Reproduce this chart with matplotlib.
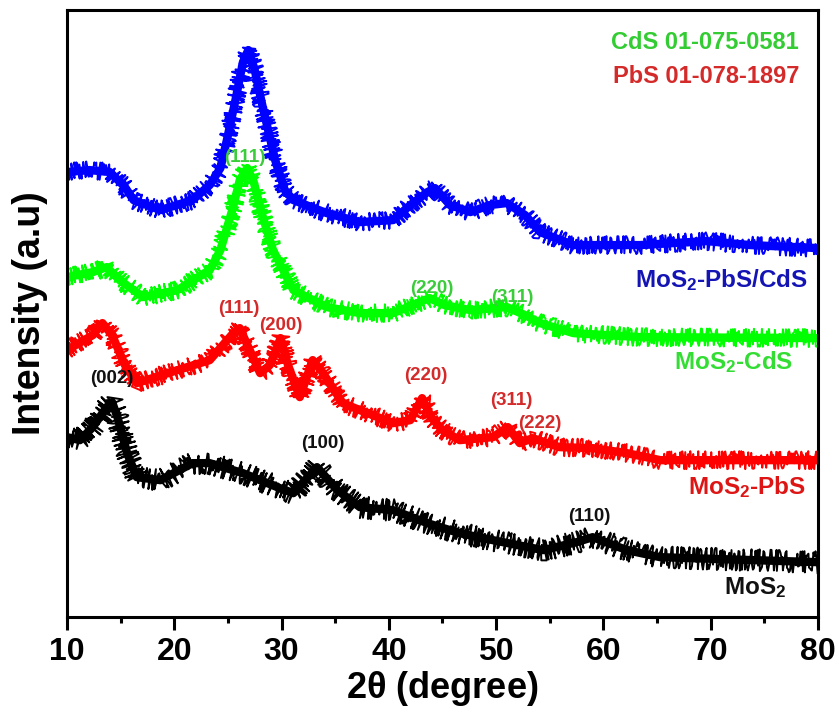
import matplotlib
matplotlib.use("Agg")
import matplotlib.pyplot as plt
import numpy as np

plt.rcParams['font.family'] = ['Liberation Sans', 'DejaVu Sans']
plt.rcParams['font.weight'] = 'bold'
plt.rcParams['axes.labelweight'] = 'bold'
plt.rcParams['mathtext.default'] = 'regular'

# XRD patterns, stacked with offsets (arbitrary units)
tt_mos2 = [10.0, 11.2, 12.4, 13.7, 14.2, 14.7, 15.6, 16.5, 18.7, 21.7, 23.3, 26.4, 29.6,
           31.1, 33.3, 35.2, 37.3, 40.4, 43.6, 46.6, 49.7, 54.4, 57.5, 59.0, 62.2, 65.3, 80.0]
i_mos2 = [180, 177, 190, 210, 215, 200, 164, 140, 137, 154, 154, 144, 130,
          124, 150, 127, 110, 107, 94, 84, 77, 67, 75, 80, 67, 60, 55]

tt_pbs = [10.0, 12.4, 13.3, 14.2, 15.4, 16.5, 20.3, 23.3, 25.5, 26.1, 28.0, 28.9, 29.6, 29.9,
          30.6, 31.7, 32.9, 33.8, 35.7, 37.3, 40.4, 42.0, 43.1, 44.0, 45.0, 46.6, 49.7, 51.1,
          52.2, 53.4, 55.9, 59.0, 62.2, 65.3, 80.0]
i_pbs = [267, 282, 294, 282, 252, 234, 247, 257, 284, 289, 244, 252, 270, 279,
         252, 220, 257, 245, 214, 207, 194, 197, 219, 199, 187, 177, 180, 190,
         174, 179, 170, 169, 164, 157, 157]

tt_cds = [10.0, 12.4, 13.7, 14.9, 17.1, 20.3, 23.3, 24.3, 25.4, 26.1, 26.8, 27.4, 28.2, 29.2,
          31.1, 34.2, 37.3, 40.4, 42.2, 43.8, 45.2, 47.6, 51.0, 52.7, 54.1, 57.2, 63.4, 80.0]
i_cds = [340, 345, 350, 337, 320, 327, 347, 367, 407, 437, 449, 435, 402, 367,
         327, 310, 304, 304, 312, 319, 312, 307, 310, 302, 294, 284, 280, 279]

tt_pbs_cds = [10.0, 12.1, 14.0, 15.4, 16.2, 18.7, 21.7, 23.3, 24.3, 24.9, 25.7, 26.4, 26.9,
              27.5, 28.2, 29.4, 30.3, 31.1, 34.2, 37.3, 40.4, 42.0, 43.6, 44.3, 45.7, 47.6,
              49.4, 51.0, 52.7, 54.1, 57.2, 63.4, 69.6, 73.7, 80.0]
i_pbs_cds = [445, 447, 445, 430, 417, 407, 417, 432, 449, 477, 517, 555, 567,
             547, 512, 457, 427, 417, 404, 395, 397, 412, 425, 429, 412, 405,
             412, 414, 402, 385, 372, 372, 376, 372, 369]

# (2theta, intensity, label) for the indexed reflections
hkl_mos2 = [(14.2, 239, '(002)'), (33.8, 174, '(100)'), (58.7, 101, '(110)')]
hkl_pbs = [(26.0, 309, '(111)'), (29.9, 292, '(200)'), (43.4, 242, '(220)'),
           (51.4, 217, '(311)'), (54.1, 194, '(222)')]
hkl_cds = [(26.6, 460, '(111)'), (44.0, 329, '(220)'), (51.5, 320, '(311)')]

fig = plt.figure(figsize=(8.39, 7.16), dpi=100)
ax = fig.add_axes([0.0799, 0.138, 0.895, 0.848])

curves = [
    (tt_mos2, i_mos2, 'black', 11),
    (tt_pbs, i_pbs, '#ff0000', 9),
    (tt_cds, i_cds, '#00ff00', 9),
    (tt_pbs_cds, i_pbs_cds, '#0000ff', 9),
]
for tt, inten, col, jit in curves:
    # solid core of the trace plus thin spiky noise on top
    ax.plot(tt, inten, color=col, lw=6)
    ln, = ax.plot(tt, inten, color=col, lw=1.4)
    ln.set_sketch_params(scale=jit, length=0.7, randomness=8)

for x, y, s in hkl_mos2:
    ax.text(x, y, s, color='#111111', fontsize=13.5, ha='center', va='center')
for x, y, s in hkl_pbs:
    ax.text(x, y, s, color='#d42a2a', fontsize=13.5, ha='center', va='center')
for x, y, s in hkl_cds:
    ax.text(x, y, s, color='#3acc3a', fontsize=13.5, ha='center', va='center')

ax.text(79.1, 337, 'MoS$_2$-PbS/CdS', color='#1414b4', fontsize=17.5, ha='right', va='center')
ax.text(77.7, 255, 'MoS$_2$-CdS', color='#33dd33', fontsize=17.5, ha='right', va='center')
ax.text(78.9, 130, 'MoS$_2$-PbS', color='#dd1515', fontsize=17.5, ha='right', va='center')
ax.text(77.0, 30, 'MoS$_2$', color='#111111', fontsize=17.5, ha='right', va='center')

ax.text(0.975, 0.946, 'CdS 01-075-0581', color='#33cc33', fontsize=17,
        ha='right', va='center', transform=ax.transAxes)
ax.text(0.975, 0.890, 'PbS 01-078-1897', color='#d42a2a', fontsize=17,
        ha='right', va='center', transform=ax.transAxes)

ax.set_xlim(10, 80)
ax.set_ylim(0, 607)
ax.set_xticks(np.arange(10, 81, 10))
ax.set_xticks(np.arange(15, 80, 10), minor=True)
ax.set_yticks([])
ax.tick_params(axis='x', which='major', direction='out', length=9, width=2.2,
               labelsize=23, pad=5)
ax.tick_params(axis='x', which='minor', direction='out', length=4.5, width=2.2)
for sp in ax.spines.values():
    sp.set_linewidth(2.2)

ax.set_xlabel(r'2$\theta$ (degree)', fontsize=26, labelpad=2)
ax.set_ylabel('Intensity (a.u)', fontsize=27, labelpad=14)

fig.savefig('out.png', dpi=100)
